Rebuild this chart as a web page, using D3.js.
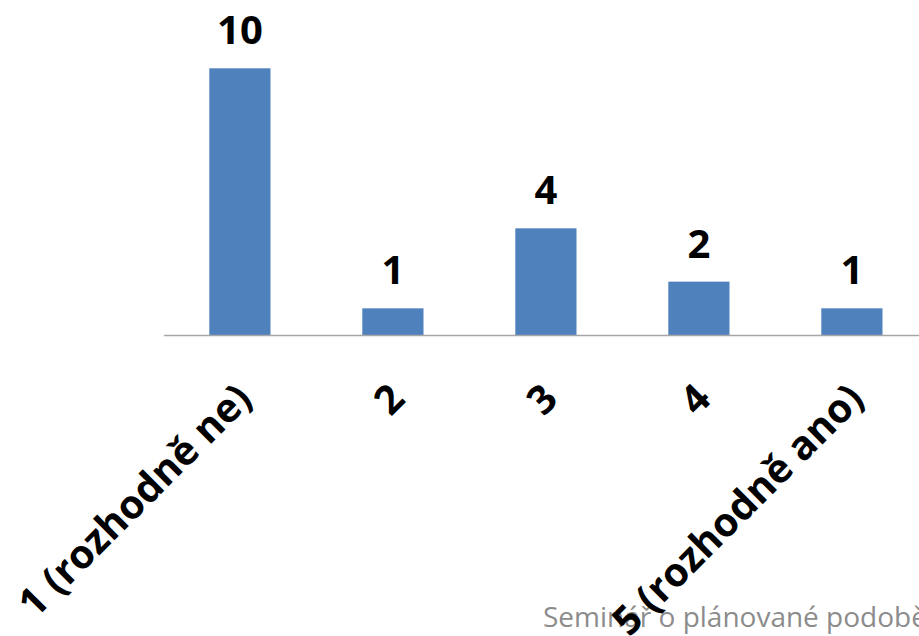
<!DOCTYPE html>
<html>
<head>
<meta charset="utf-8">
<script src="https://cdn.jsdelivr.net/npm/d3@7/dist/d3.min.js"></script>
<style>
html,body{margin:0;padding:0;background:#fff;overflow:hidden;}
svg{display:block;}
</style>
</head>
<body>
<svg id="chart" width="919" height="636"></svg>
<script>
const categories = ["1 (rozhodně ne)", "2", "3", "4", "5 (rozhodně ano)"];
const values = [10, 1, 4, 2, 1];
const footerText = "Seminář o plánované podobě";

const svg = d3.select("#chart");
const baseY = 335, topY = 68.3;

const x = d3.scaleBand().domain(categories).range([163.4, 928.4]).paddingInner(0.6).paddingOuter(0.3);
const y = d3.scaleLinear().domain([0, 10]).range([baseY, topY]);

// footer (behind labels)
svg.append("text")
  .attr("x", 543).attr("y", 627)
  .attr("font-family", "Open Sans, sans-serif")
  .attr("font-size", 28)
  .attr("fill", "#8c8c8c")
  .text(footerText);

svg.selectAll("rect.bar").data(values).join("rect")
  .attr("class", "bar")
  .attr("x", (d, i) => x(categories[i]))
  .attr("width", x.bandwidth())
  .attr("y", d => y(d))
  .attr("height", d => baseY - y(d))
  .attr("fill", "#4F81BD");

const axis = d3.axisBottom(x).tickSize(0).tickSizeOuter(0).tickPadding(0);
const gx = svg.append("g").attr("transform", `translate(0,${baseY})`).call(axis);
gx.select(".domain").attr("stroke", "#a6a6a6").attr("stroke-width", 1.5);
gx.selectAll(".tick text")
  .attr("font-family", "Open Sans, sans-serif")
  .attr("font-weight", "bold")
  .attr("font-size", 40)
  .attr("fill", "#000")
  .attr("text-anchor", "end")
  .attr("dy", 0)
  .attr("transform", "translate(14,66) rotate(-45)");

svg.selectAll("text.val").data(values).join("text")
  .attr("class", "val")
  .attr("x", (d, i) => x(categories[i]) + x.bandwidth() / 2)
  .attr("y", d => y(d) - 24)
  .attr("text-anchor", "middle")
  .attr("font-family", "Open Sans, sans-serif")
  .attr("font-weight", "bold")
  .attr("font-size", 40)
  .attr("fill", "#000")
  .text(d => d);
</script>
</body>
</html>
